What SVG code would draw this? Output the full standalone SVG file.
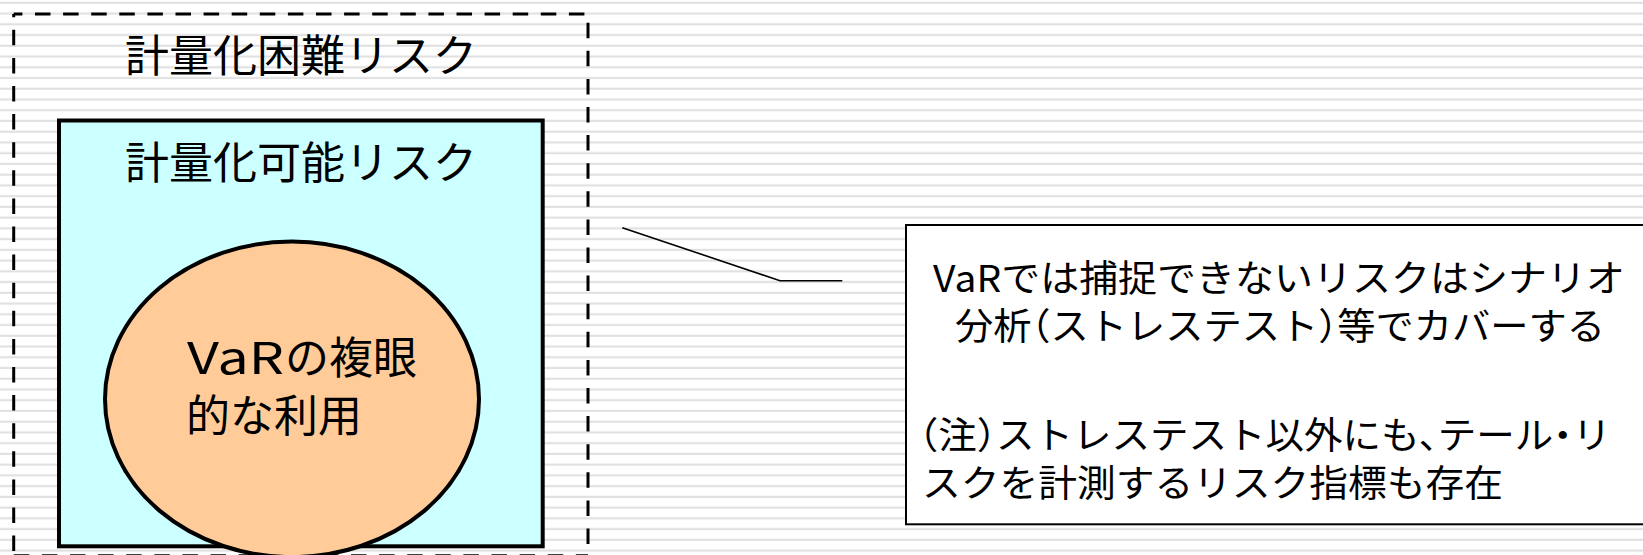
<svg xmlns="http://www.w3.org/2000/svg" width="1643" height="555" viewBox="0 0 1643 555">
<style>
.t{font-family:"Noto Sans CJK JP","Noto Sans",sans-serif;fill:#000}
.big{font-size:44px}
.small{font-size:37px}
.halt{font-feature-settings:"halt" 1}
.dash{stroke:#000;stroke-width:3;fill:none;stroke-dasharray:15.5 12.6}
</style>
<defs>
<pattern id="stripes" patternUnits="userSpaceOnUse" x="0" y="0" width="20" height="10.74">
<rect x="0" y="1.7" width="20" height="2.2" fill="#e1e1e1"/>
</pattern>
</defs>
<rect width="1643" height="555" fill="#fff"/>
<rect width="1643" height="555" fill="url(#stripes)"/>

<g id="outer">
<line class="dash" x1="13.7" y1="14" x2="13.7" y2="556" style="stroke-dashoffset:12.3"/>
<line class="dash" x1="13.7" y1="14" x2="588" y2="14" style="stroke-dashoffset:6.8"/>
<line class="dash" x1="588" y1="14" x2="588" y2="556" style="stroke-dashoffset:19.4"/>
<line class="dash" x1="13.7" y1="555.8" x2="588" y2="555.8" style="stroke-dashoffset:28"/>
<text class="t big" x="301" y="72" text-anchor="middle">計量化困難リスク</text>
</g>

<g id="inner">
<rect x="59" y="120.5" width="483.7" height="425.8" fill="#ccffff" stroke="#000" stroke-width="4"/>
<text class="t big" x="301" y="178.5" text-anchor="middle">計量化可能リスク</text>
</g>

<g id="var">
<ellipse cx="292" cy="399.3" rx="187" ry="157.8" fill="#ffcc99" stroke="#000" stroke-width="4"/>
<text class="t big" x="187" y="374" textLength="97" lengthAdjust="spacingAndGlyphs">VaR</text>
<text class="t big" x="285" y="374">の複眼</text>
<text class="t big" x="186" y="432">的な利用</text>
</g>

<g id="connectors">
<polyline points="622.3,227.7 780,280.7 842.3,280.7" fill="none" stroke="#000" stroke-width="1.6"/>
</g>

<g id="note">
<rect x="906" y="225" width="760" height="299.3" fill="#fff" stroke="#000" stroke-width="2"/>
<text class="t small" x="933" y="292" textLength="692" lengthAdjust="spacingAndGlyphs">VaRでは捕捉できないリスクはシナリオ</text>
<text class="t small halt" x="955" y="340" textLength="650" lengthAdjust="spacingAndGlyphs">分析（ストレステスト）等でカバーする</text>
<text class="t small halt" x="919" y="449" textLength="692" lengthAdjust="spacingAndGlyphs">（注）ストレステスト以外にも、テール・リ</text>
<text class="t small" x="922" y="497" textLength="581" lengthAdjust="spacingAndGlyphs">スクを計測するリスク指標も存在</text>
</g>
</svg>
